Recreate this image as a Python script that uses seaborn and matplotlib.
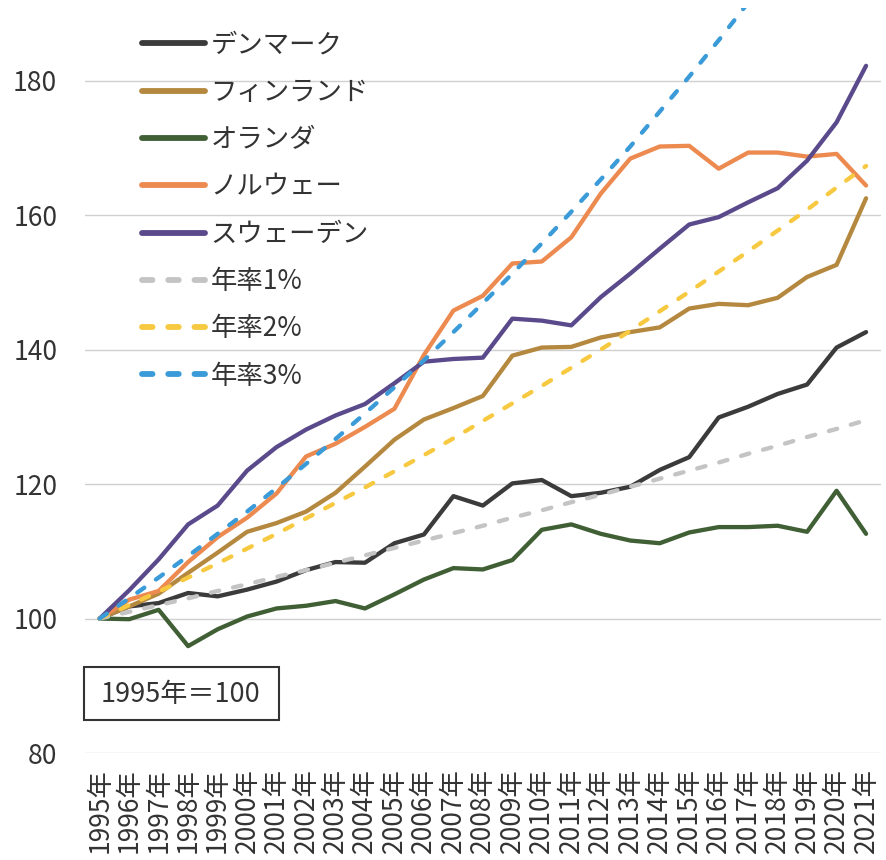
import matplotlib
matplotlib.use("Agg")
import matplotlib.pyplot as plt
from matplotlib.patches import Rectangle
import numpy as np
import pandas as pd
import seaborn as sns

years = list(range(1995, 2022))
year_labels = [f"{y}年" for y in years]

denmark = [100.0, 101.8, 102.3, 103.8, 103.3, 104.3, 105.5, 107.2, 108.4, 108.3, 111.2, 112.5, 118.2, 116.8,
           120.1, 120.6, 118.2, 118.7, 119.6, 122.1, 124.0, 129.9, 131.5, 133.4, 134.8, 140.3, 142.6]
finland = [100.0, 101.8, 103.7, 106.8, 109.8, 112.9, 114.2, 115.9, 118.7, 122.6, 126.6, 129.6, 131.3, 133.1,
           139.1, 140.3, 140.4, 141.8, 142.6, 143.3, 146.1, 146.8, 146.6, 147.7, 150.8, 152.6, 162.5]
netherlands = [100.0, 99.9, 101.3, 95.9, 98.4, 100.3, 101.5, 101.9, 102.6, 101.5, 103.6, 105.8, 107.5, 107.3,
               108.7, 113.2, 114.0, 112.6, 111.6, 111.2, 112.8, 113.6, 113.6, 113.8, 112.9, 119.0, 112.6]
norway = [100.0, 102.8, 104.1, 108.4, 112.1, 115.0, 118.6, 124.1, 126.0, 128.5, 131.2, 139.2, 145.8, 148.0,
          152.8, 153.1, 156.7, 163.2, 168.4, 170.2, 170.3, 166.9, 169.3, 169.3, 168.7, 169.1, 164.4]
sweden = [100.0, 104.2, 108.8, 114.0, 116.8, 122.0, 125.5, 128.1, 130.2, 131.9, 135.0, 138.2, 138.6, 138.8,
          144.6, 144.3, 143.6, 147.8, 151.3, 155.0, 158.6, 159.7, 161.9, 164.0, 168.1, 173.8, 182.2]
rate1 = [100.0, 101.0, 102.0, 103.0, 104.1, 105.1, 106.2, 107.2, 108.3, 109.4, 110.5, 111.6, 112.7, 113.8,
         115.0, 116.1, 117.3, 118.4, 119.6, 120.8, 122.0, 123.2, 124.5, 125.7, 127.0, 128.2, 129.5]
rate2 = [100.0, 102.0, 104.0, 106.1, 108.2, 110.4, 112.6, 114.9, 117.2, 119.5, 121.9, 124.3, 126.8, 129.4,
         132.0, 134.6, 137.3, 140.0, 142.8, 145.7, 148.6, 151.6, 154.6, 157.7, 160.8, 164.1, 167.3]
rate3 = [100.0, 103.0, 106.1, 109.3, 112.6, 115.9, 119.4, 123.0, 126.7, 130.5, 134.4, 138.4, 142.6, 146.9,
         151.3, 155.8, 160.5, 165.3, 170.2, 175.4, 180.6, 186.0, 191.6, 197.4, 203.3, 209.4, 215.7]

series_names = ["デンマーク", "フィンランド", "オランダ", "ノルウェー", "スウェーデン", "年率1%", "年率2%", "年率3%"]
series_values = [denmark, finland, netherlands, norway, sweden, rate1, rate2, rate3]
colors = ["#3b3b3b", "#b5883f", "#405f35", "#ec8a50", "#5a4a8c", "#c4c4c4", "#f7c940", "#3b9bd8"]

df = pd.concat(
    [pd.DataFrame({"year": years, "value": v, "series": n}) for n, v in zip(series_names, series_values)],
    ignore_index=True,
)

sns.set_theme(style="white")
plt.rcParams["font.family"] = ["Noto Sans CJK JP", "DejaVu Sans"]

fig = plt.figure(figsize=(8.87, 8.6), dpi=100)
ax = fig.add_axes([0.0958, 0.1244, 0.8972, 0.8663])

palette = dict(zip(series_names, colors))
dash_map = {n: "" for n in series_names[:5]}
dash_map.update({"年率1%": (2.0, 3.3), "年率2%": (2.0, 3.3), "年率3%": (2.0, 3.3)})

sns.lineplot(data=df, x="year", y="value", hue="series", style="series",
             palette=palette, dashes=dash_map, hue_order=series_names,
             style_order=series_names, linewidth=3.1, ax=ax, legend=False)

for line in ax.get_lines():
    line.set_dash_capstyle("round")
    line.set_solid_capstyle("round")

ax.set_xlim(1994.5, 2021.5)
ax.set_ylim(80, 190.8)
ax.set_yticks([80, 100, 120, 140, 160, 180])
ax.set_xticks(years)
ax.set_xticklabels(year_labels, rotation=90, fontsize=19)
ax.tick_params(axis="y", labelsize=19, length=0, pad=20, colors="#333333")
ax.tick_params(axis="x", length=0, pad=11, colors="#333333")
ax.set_xlabel("")
ax.set_ylabel("")
ax.grid(axis="y", color="#d0d0d0", linewidth=1.0)
ax.grid(axis="x", visible=False)
for s in ax.spines.values():
    s.set_visible(False)

handles = [plt.Line2D([], [], color=c, linewidth=4.2,
                      linestyle="-" if i < 5 else (0, (1.8, 2.7)),
                      dash_capstyle="round", solid_capstyle="round")
           for i, c in enumerate(colors)]
fig.legend(handles, series_names, loc="upper left", bbox_to_anchor=(0.133, 0.991),
           frameon=False, fontsize=19, handlelength=2.4, handletextpad=0.2,
           labelspacing=0.77, labelcolor="#333333")

fig.patches.append(Rectangle((84 / 887, 1 - 720 / 860), 195 / 887, 53 / 860,
                             transform=fig.transFigure, fill=False,
                             edgecolor="#333333", linewidth=1.5))
fig.text(181 / 887, 1 - 694 / 860, "1995年＝100", ha="center", va="center",
         fontsize=19.5, color="#333333")

fig.savefig("out.png", dpi=100, facecolor="white")
